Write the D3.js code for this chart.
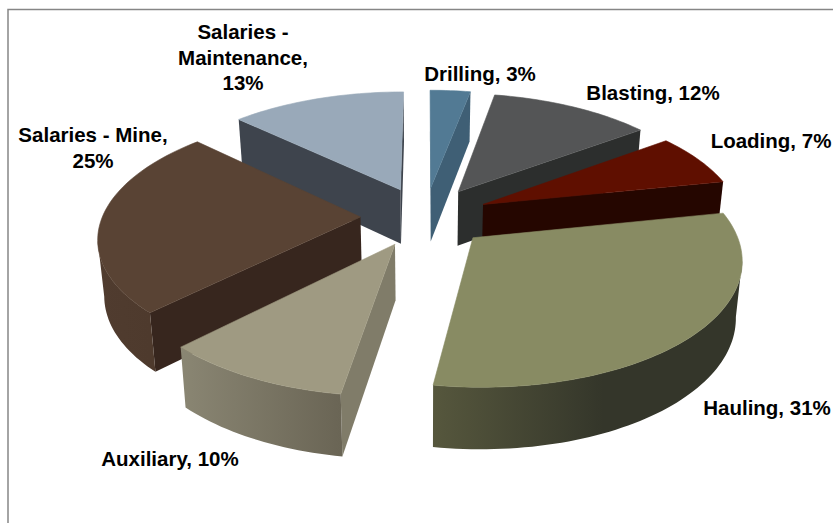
<!DOCTYPE html>
<html>
<head>
<meta charset="utf-8">
<script src="https://cdnjs.cloudflare.com/ajax/libs/d3/7.8.5/d3.min.js"></script>
<style>
  html, body { margin: 0; padding: 0; background: #fff; }
  svg { display: block; }
  text { font-family: "Liberation Sans", Arial, sans-serif; font-weight: 700; fill: #000; }
</style>
</head>
<body>
<script>
// Mining cost breakdown, drawn as an exploded 3D pie.
const categories = ["Drilling", "Blasting", "Loading", "Hauling", "Auxiliary", "Salaries - Mine", "Salaries - Maintenance"];
const shares = [3, 12, 7, 31, 10, 25, 13];

// Face colours per slice.
const topColors  = ["#527a94", "#545556", "#5f0f00", "#888b63", "#9f9a82", "#594334", "#99a9b9"];
const wallColors = ["#3f5f75", "#2c2e2d", "#250600", "#34362a", "#807c69", "#37261e", "#3e444d"];
const rimLight   = ["#3f5f75", "#2c2e2d", "#250600", "#56573d", "#8a8673", "#503c2f", "#3e444d"];
const rimDark    = ["#3f5f75", "#2c2e2d", "#250600", "#34362a", "#6a6555", "#4e3a2d", "#3e444d"];

// Label placement: wrapped lines, anchor and first baseline.
const labelLines = [
  ["Drilling, 3%"], ["Blasting, 12%"], ["Loading, 7%"], ["Hauling, 31%"], ["Auxiliary, 10%"],
  ["Salaries - Mine,", "25%"], ["Salaries -", "Maintenance,", "13%"]
];
const labelX = [480, 653, 771, 767, 170, 93, 243];
const labelY = [81, 100, 148, 415, 466, 142, 39];
const lineGap = 25.5;

const width = 833, height = 523;
const explode = 0.25;        // radial offset of every slice, in radii
const perspective = 0.15;    // how quickly things grow toward the viewer
const thickness = 55;
const baseShrink = 0.98;     // the underside sits slightly further away

const sx = d3.scaleLinear().domain([-1, 1]).range([425 - 258, 425 + 258]);
const sy = d3.scaleLinear().domain([-1, 1]).range([216.5 - 120, 216.5 + 120]);

const svg = d3.select("body").append("svg").attr("width", width).attr("height", height);
const defs = svg.append("defs");

// Chart frame: only the top and left rules fall inside the window.
svg.append("path")
  .attr("d", d3.line()([[8, height], [8, 9.5], [width, 9.5]]))
  .attr("fill", "none").attr("stroke", "#868686").attr("stroke-width", 1.5);

// Disk coordinates (u to the right, v toward the viewer) to the screen.
function project(u, v, lower) {
  const s = 1 / (1 - perspective * v);
  const x = sx(u * s), y = sy(v * s);
  if (!lower) return [x, y];
  return [sx(0) + (x - sx(0)) * baseShrink, y + thickness * (1 + 0.6 * (s - 1))];
}

const arcs = d3.pie().sort(null).value(d => d).startAngle(0).endAngle(2 * Math.PI)(shares);
const slices = arcs.map((a, i) => {
  const mid = (a.startAngle + a.endAngle) / 2;
  return { ...a, i, mid, ou: explode * Math.sin(mid), ov: -explode * Math.cos(mid) };
});

const draw = d3.line().curve(d3.curveLinear);

// Paint from the back of the pie to the front.
const ordered = slices.slice().sort((p, q) => p.ov - q.ov);

ordered.forEach(d => {
  const g = svg.append("g").attr("class", "slice");
  const steps = Math.max(8, Math.round((d.endAngle - d.startAngle) * 40));
  const angles = d3.range(steps + 1).map(k => d.startAngle + (d.endAngle - d.startAngle) * k / steps);
  const rim = (a, lower) => project(d.ou + Math.sin(a), d.ov - Math.cos(a), lower);
  const apex = lower => project(d.ou, d.ov, lower);

  // Radial walls that turn toward the viewer.
  [[d.startAngle, d.startAngle - Math.PI / 2], [d.endAngle, d.endAngle + Math.PI / 2]].forEach(([a, n]) => {
    if (-Math.cos(n) >= -1e-6) {
      g.append("path")
        .attr("d", draw([apex(false), rim(a, false), rim(a, true), apex(true)]) + "Z")
        .attr("fill", wallColors[d.i]);
    }
  });

  // Outer rim: only the stretch running right to left on screen faces forward.
  const front = angles.filter((a, k) => {
    const here = rim(a, false)[0];
    const next = k < steps ? rim(angles[k + 1], false)[0] : here;
    const prev = k > 0 ? rim(angles[k - 1], false)[0] : here;
    return next < here || prev > here;
  });
  if (front.length > 1) {
    const xs = front.map(a => rim(a, false)[0]);
    const id = "rim" + d.i;
    const grad = defs.append("linearGradient").attr("id", id)
      .attr("gradientUnits", "userSpaceOnUse")
      .attr("x1", d3.min(xs)).attr("x2", d3.max(xs)).attr("y1", 0).attr("y2", 0);
    grad.append("stop").attr("offset", 0).attr("stop-color", rimLight[d.i]);
    grad.append("stop").attr("offset", d.i === 3 ? 0.55 : 1).attr("stop-color", rimDark[d.i]);
    grad.append("stop").attr("offset", 1).attr("stop-color", rimDark[d.i]);
    const pts = front.map(a => rim(a, false)).concat(front.slice().reverse().map(a => rim(a, true)));
    g.append("path").attr("d", draw(pts) + "Z").attr("fill", `url(#${id})`);
  }

  // Top face; the hairline stroke closes the seam against the rim.
  g.append("path")
    .attr("d", draw([apex(false)].concat(angles.map(a => rim(a, false)))) + "Z")
    .attr("fill", topColors[d.i])
    .attr("stroke", topColors[d.i])
    .attr("stroke-width", 0.6)
    .attr("stroke-linejoin", "round");
});

// Data labels.
slices.forEach(d => {
  const t = svg.append("text")
    .attr("text-anchor", "middle")
    .attr("font-size", 20.5)
    .attr("x", labelX[d.i]).attr("y", labelY[d.i]);
  labelLines[d.i].forEach((txt, k) => {
    t.append("tspan").attr("x", labelX[d.i]).attr("y", labelY[d.i] + k * lineGap).text(txt);
  });
});
</script>
</body>
</html>
